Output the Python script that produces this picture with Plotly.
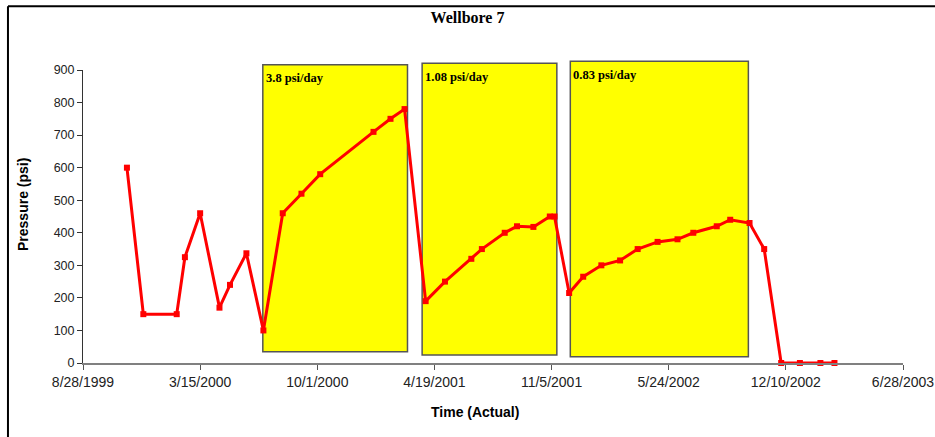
import plotly.graph_objects as go

# ---- data ----
dates = [
    "1999-11-11", "1999-12-09", "2000-02-04", "2000-02-18", "2000-03-15",
    "2000-04-17", "2000-05-05", "2000-06-02", "2000-07-01",
    "2000-08-03", "2000-09-04", "2000-10-06", "2001-01-05", "2001-02-03", "2001-02-27",
    "2001-04-04", "2001-05-07", "2001-06-21", "2001-07-09", "2001-08-17",
    "2001-09-07", "2001-10-05", "2001-11-02", "2001-11-10",
    "2001-12-05", "2001-12-29", "2002-01-29", "2002-03-02", "2002-04-01",
    "2002-05-05", "2002-06-08", "2002-07-05", "2002-08-14", "2002-09-06",
    "2002-10-09", "2002-11-03", "2002-12-02", "2003-01-03", "2003-02-07", "2003-03-03",
]
pressure = [
    600, 150, 150, 325, 460,
    170, 240, 337, 100,
    460, 520, 580, 710, 750, 780,
    190, 250, 320, 350, 400,
    420, 418, 450, 450,
    215, 265, 300, 315, 350,
    372, 380, 400, 420, 440,
    430, 350, 0, 0, 0, 0,
]

box_start = ["2000-06-30", "2001-03-29", "2001-12-07"]
box_end = ["2001-03-04", "2001-11-14", "2002-10-07"]
box_labels = ["3.8 psi/day", "1.08 psi/day", "0.83 psi/day"]
box_bottom = [0.038, 0.027, 0.021]
box_top = [1.018, 1.023, 1.030]

x_tickvals = ["1999-08-28", "2000-03-15", "2000-10-01", "2001-04-19",
              "2001-11-05", "2002-05-24", "2002-12-10", "2003-06-28"]
x_ticktext = ["8/28/1999", "3/15/2000", "10/1/2000", "4/19/2001",
              "11/5/2001", "5/24/2002", "12/10/2002", "6/28/2003"]
y_tickvals = [0, 100, 200, 300, 400, 500, 600, 700, 800, 900]

fig = go.Figure()
fig.add_trace(go.Scatter(
    x=dates, y=pressure, mode="lines+markers",
    line=dict(color="#FF0000", width=3),
    marker=dict(symbol="square", size=6, color="#FF0000"),
    cliponaxis=False, showlegend=False,
))

shapes = []
annotations = []
for s, e, lab, b, t in zip(box_start, box_end, box_labels, box_bottom, box_top):
    shapes.append(dict(type="rect", xref="x", yref="paper", x0=s, x1=e, y0=b, y1=t,
                       fillcolor="#FFFF00", line=dict(color="#555555", width=1.5),
                       layer="below"))
    annotations.append(dict(xref="x", yref="paper", x=s, y=t - 0.015, xanchor="left",
                            yanchor="top", xshift=1, showarrow=False, text="<b>" + lab + "</b>",
                            font=dict(family="Liberation Serif", size=12.5, color="black")))

# frame lines (top and left)
shapes.append(dict(type="line", xref="paper", yref="paper", x0=-0.0915, x1=1.1,
                   y0=1.218, y1=1.218, line=dict(color="black", width=2)))
shapes.append(dict(type="line", xref="paper", yref="paper", x0=-0.0915, x1=-0.0915,
                   y0=1.218, y1=-0.26, line=dict(color="black", width=2)))

# axis titles
annotations.append(dict(xref="paper", yref="paper", x=(23 - 83) / 820, y=(363 - 205) / 293,
                        text="<b>Pressure (psi)</b>", textangle=-90, showarrow=False,
                        xanchor="center", yanchor="middle",
                        font=dict(family="Liberation Sans", size=14, color="black")))
annotations.append(dict(xref="paper", yref="paper", x=(475 - 83) / 820, y=(363 - 412) / 293,
                        text="<b>Time (Actual)</b>", showarrow=False,
                        xanchor="center", yanchor="middle",
                        font=dict(family="Liberation Sans", size=14, color="black")))

fig.update_layout(
    width=935, height=437,
    margin=dict(l=83, r=32, t=70, b=74),
    paper_bgcolor="white", plot_bgcolor="white",
    title=dict(text="<b>Wellbore 7</b>", x=0.5, xanchor="center",
               y=1 - 17 / 437, yanchor="middle", yref="container",
               font=dict(family="Liberation Serif", size=16, color="black")),
    shapes=shapes, annotations=annotations,
    xaxis=dict(type="date", range=["1999-08-28", "2003-06-28"],
               tickmode="array", tickvals=x_tickvals, ticktext=x_ticktext,
               ticks="outside", ticklen=5, tickcolor="#555555",
               showline=True, linecolor="#808080", linewidth=2,
               showgrid=False, zeroline=False, automargin=False,
               ticklabeloverflow="allow",
               tickfont=dict(family="Liberation Sans", size=14, color="#222222")),
    yaxis=dict(range=[0, 900], tickmode="array", tickvals=y_tickvals,
               ticks="outside", ticklen=5, tickcolor="#333333",
               showline=True, linecolor="#333333", linewidth=1,
               showgrid=False, zeroline=False, automargin=False,
               tickfont=dict(family="Liberation Sans", size=12.5, color="#222222")),
)

fig.write_html("out.html")
